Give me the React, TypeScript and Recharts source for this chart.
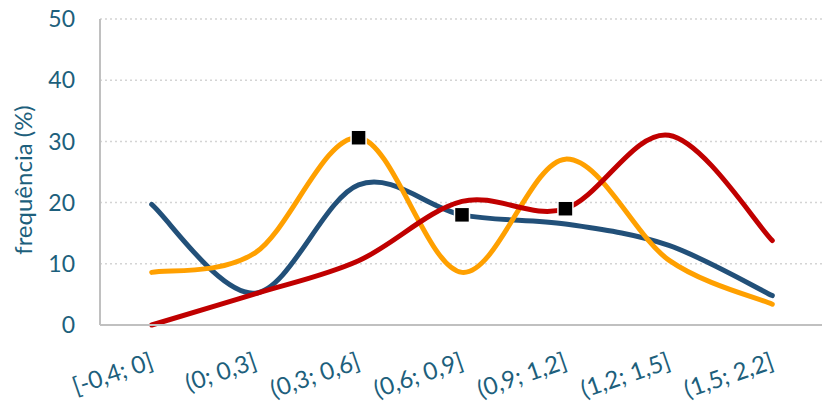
import React from "react";
import {
  LineChart,
  Line,
  XAxis,
  YAxis,
  CartesianGrid,
} from "recharts";

// class intervals on the x axis
const classes = [
  "[-0,4; 0]",
  "(0; 0,3]",
  "(0,3; 0,6]",
  "(0,6; 0,9]",
  "(0,9; 1,2]",
  "(1,2; 1,5]",
  "(1,5; 2,2]",
];

// frequency (%) per class for each series
const blueSeries = [19.7, 5.2, 22.9, 18, 16.5, 13, 4.8];
const orangeSeries = [8.6, 11.8, 30.6, 8.6, 27.1, 10.6, 3.4];
const redSeries = [0, 5.1, 10.5, 20.2, 19, 31, 13.8];

// index of the highlighted (square) point on each series
const blueMark = 3;
const orangeMark = 2;
const redMark = 4;

const yTicks = [0, 10, 20, 30, 40, 50];

const data = classes.map((c, i) => ({
  classe: c,
  azul: blueSeries[i],
  laranja: orangeSeries[i],
  vermelho: redSeries[i],
}));

const TEXT = "#1d5f7c";
const FONT = "Lato, 'Open Sans', sans-serif";

// smoothed line in the style of spreadsheet charts (Catmull-Rom as cubic beziers)
function smoothCurve(context: any) {
  let pts: number[][] = [];
  return {
    areaStart() {},
    areaEnd() {},
    lineStart() {
      pts = [];
    },
    lineEnd() {
      const n = pts.length;
      if (!n) return;
      context.moveTo(pts[0][0], pts[0][1]);
      for (let i = 0; i < n - 1; i++) {
        const p0 = pts[Math.max(i - 1, 0)];
        const p1 = pts[i];
        const p2 = pts[i + 1];
        const p3 = pts[Math.min(i + 2, n - 1)];
        context.bezierCurveTo(
          p1[0] + (p2[0] - p0[0]) / 6,
          p1[1] + (p2[1] - p0[1]) / 6,
          p2[0] - (p3[0] - p1[0]) / 6,
          p2[1] - (p3[1] - p1[1]) / 6,
          p2[0],
          p2[1]
        );
      }
    },
    point(x: number, y: number) {
      pts.push([+x, +y]);
    },
  };
}

function squareDot(markIndex: number) {
  return (props: any) => {
    const { cx, cy, index } = props;
    if (index !== markIndex) return <g key={`d-${index}`} />;
    return (
      <rect
        key={`d-${index}`}
        x={cx - 7.5}
        y={cy - 7.5}
        width={15}
        height={15}
        fill="#000"
        stroke="#fff"
        strokeWidth={1.5}
      />
    );
  };
}

function ClassTick({ x, y, payload }: any) {
  return (
    <text
      x={x + 3}
      y={y + 35}
      transform={`rotate(-19, ${x + 3}, ${y + 35})`}
      textAnchor="end"
      fill={TEXT}
      fontSize={24}
      fontFamily={FONT}
    >
      {payload.value}
    </text>
  );
}

function YTitle({ viewBox }: any) {
  const cx = viewBox.x + 22;
  const cy = viewBox.y + viewBox.height / 2 + 8;
  return (
    <text
      x={cx}
      y={cy}
      transform={`rotate(-90, ${cx}, ${cy})`}
      textAnchor="middle"
      dominantBaseline="central"
      fill={TEXT}
      fontSize={24}
      fontFamily={FONT}
    >
      frequência (%)
    </text>
  );
}

export default function App() {
  return (
    <div
      style={{
        position: "absolute",
        left: 0,
        top: 0,
        width: 822,
        height: 406,
        overflow: "hidden",
        background: "#fff",
      }}
    >
      <LineChart
        width={830}
        height={406}
        data={data}
        margin={{ top: 19, right: 6, bottom: 0, left: 0 }}
      >
        <CartesianGrid
          vertical={false}
          stroke="#d4d4d4"
          strokeDasharray="2 3"
          strokeWidth={1.5}
        />
        <XAxis
          dataKey="classe"
          scale="band"
          height={81}
          tickLine={false}
          axisLine={{ stroke: "#c0c0c0", strokeWidth: 2 }}
          tick={<ClassTick />}
          interval={0}
        />
        <YAxis
          width={100}
          domain={[0, 50]}
          ticks={yTicks}
          tickLine={false}
          tickSize={0}
          tickMargin={25}
          axisLine={{ stroke: "#c0c0c0", strokeWidth: 2 }}
          tick={{ fill: TEXT, fontSize: 23, fontFamily: FONT }}
          label={<YTitle />}
        />
        <Line
          dataKey="azul"
          type={smoothCurve as any}
          stroke="#225079"
          strokeWidth={5}
          strokeLinecap="round"
          dot={squareDot(blueMark)}
          activeDot={false}
          isAnimationActive={false}
        />
        <Line
          dataKey="laranja"
          type={smoothCurve as any}
          stroke="#ffa000"
          strokeWidth={5}
          strokeLinecap="round"
          dot={squareDot(orangeMark)}
          activeDot={false}
          isAnimationActive={false}
        />
        <Line
          dataKey="vermelho"
          type={smoothCurve as any}
          stroke="#c00000"
          strokeWidth={5}
          strokeLinecap="round"
          dot={squareDot(redMark)}
          activeDot={false}
          isAnimationActive={false}
        />
      </LineChart>
    </div>
  );
}
